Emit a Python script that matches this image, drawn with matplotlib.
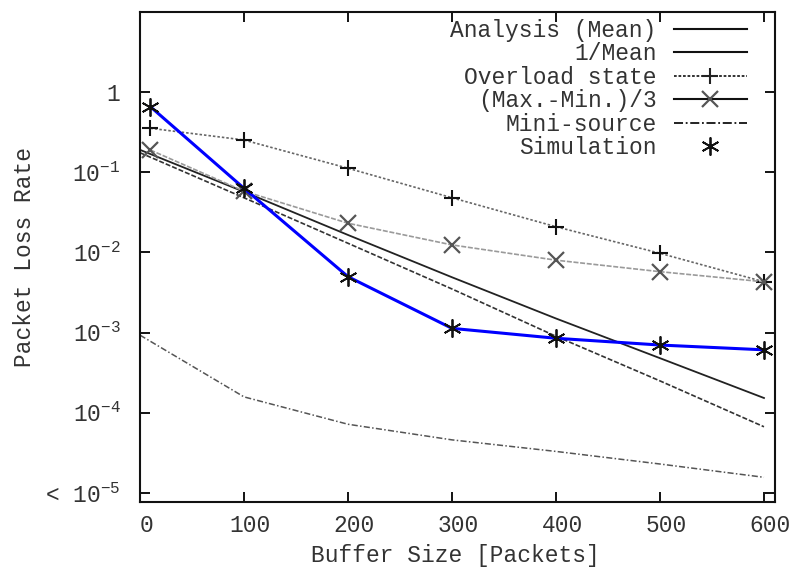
import numpy as np
import matplotlib
matplotlib.use("Agg")
import matplotlib.pyplot as plt
import matplotlib.transforms as mtransforms
from matplotlib.lines import Line2D

# --------------------------------------------------------------------------------
# DATA
# --------------------------------------------------------------------------------
buffer_line = [0, 100, 200, 300, 400, 500, 600]       # analytic curves
buffer_pts = [10, 100, 200, 300, 400, 500, 600]       # marker series

analysis_mean = [0.19, 0.057, 0.0165, 0.0049, 0.0015, 0.00048, 0.000153]
inv_mean = [0.175, 0.048, 0.013, 0.0035, 0.00090, 0.00025, 0.000067]
overload = [0.353, 0.252, 0.112, 0.048, 0.0209, 0.00975, 0.0043]
max_min = [0.189, 0.058, 0.0231, 0.0124, 0.0080, 0.00575, 0.0043]
mini_source = [0.00093, 0.000158, 0.000072, 0.000046, 0.000033, 0.000023, 0.0000157]
simulation = [0.656, 0.063, 0.00498, 0.00113, 0.00085, 0.00070, 0.00061]

x_ticks = [0, 100, 200, 300, 400, 500, 600]
y_ticks = [1, 1e-1, 1e-2, 1e-3, 1e-4, 1e-5]
y_tick_labels = ["1", r"$\mathregular{10^{-1}}$", r"$\mathregular{10^{-2}}$",
                 r"$\mathregular{10^{-3}}$", r"$\mathregular{10^{-4}}$",
                 r"< $\mathregular{10^{-5}}$"]

# --------------------------------------------------------------------------------
# STYLE
# --------------------------------------------------------------------------------
plt.rcParams['font.family'] = ['Liberation Mono', 'DejaVu Sans Mono']
plt.rcParams['mathtext.fontset'] = 'custom'
plt.rcParams['mathtext.rm'] = 'Liberation Mono'
txt_color = '#333333'
fs = 16.5

fig = plt.figure(figsize=(7.95, 5.72), dpi=100)
ax = fig.add_axes([140 / 795, 1 - 502 / 572, 635 / 795, 490 / 572])

# curves
ax.plot(buffer_line, analysis_mean, color='#222222', lw=1.3)
ax.plot(buffer_line, inv_mean, color='#333333', lw=1.2, dashes=(3, 1.2))
ax.plot(buffer_pts, overload, color='#666666', lw=1.2, dashes=(1.5, 1.2),
        marker='+', ms=12, mew=1.5, mec='#111111')
ax.plot(buffer_pts, max_min, color='#9a9a9a', lw=1.2, dashes=(3, 1),
        marker='x', ms=11, mew=1.6, mec='#555555')
ax.plot(buffer_line, mini_source, color='#555555', lw=1.1, dashes=(4, 1.5, 1, 1.5))
ax.plot(buffer_pts, simulation, color='#0000ff', lw=2.2, zorder=4)
ax.plot(buffer_pts, simulation, ls='none', marker=(6, 2, 0), ms=13, mew=1.3,
        color='#111111', zorder=5)

# axes
ax.set_yscale('log')
ax.set_xlim(0, 610.6)
ax.set_ylim(10 ** -5.112, 10 ** 0.9975)
ax.set_xticks(x_ticks)
ax.set_xticklabels([str(v) for v in x_ticks])
ax.set_yticks(y_ticks)
ax.set_yticklabels(y_tick_labels)
ax.minorticks_off()
ax.tick_params(direction='in', length=7, width=1.3, top=True, right=True,
               labelsize=fs, labelcolor=txt_color)
ax.tick_params(axis='x', pad=9)
ax.tick_params(axis='y', pad=14)
offset = mtransforms.ScaledTranslation(6.5 / 100, 0, fig.dpi_scale_trans)
for lab in ax.get_xticklabels():
    lab.set_transform(lab.get_transform() + offset)
for sp in ax.spines.values():
    sp.set_linewidth(1.5)
    sp.set_color('#111111')

ax.set_xlabel("Buffer Size [Packets]", fontsize=fs, color=txt_color)
ax.set_ylabel("Packet Loss Rate", fontsize=fs, color=txt_color)
ax.xaxis.set_label_coords(0.497, -0.085)
ax.yaxis.set_label_coords(-0.163, 0.5)

# legend (gnuplot-style: text right aligned, sample on the right)
legend_elements = [
    Line2D([], [], color='#111111', lw=1.5, label="Analysis (Mean)"),
    Line2D([], [], color='#111111', lw=1.5, label="1/Mean"),
    Line2D([], [], color='#222222', lw=1.3, dashes=(1.5, 1), marker='+', ms=12,
           mew=1.5, label="Overload state"),
    Line2D([], [], color='#111111', lw=1.5, marker='x', ms=11, mew=1.6,
           mec='#555555', label="(Max.-Min.)/3"),
    Line2D([], [], color='#111111', lw=1.3, dashes=(5, 1.5, 1, 1.5), label="Mini-source"),
    Line2D([], [], ls='none', marker=(6, 2, 0), ms=13, mew=1.3, color='#111111',
           label="Simulation"),
]
leg = ax.legend(handles=legend_elements, loc='upper right', bbox_to_anchor=(0.956, 0.986),
                frameon=False, markerfirst=False, fontsize=fs, handlelength=3.2,
                handletextpad=0.75, labelspacing=0.02, borderpad=0, borderaxespad=0,
                numpoints=1)
for t in leg.get_texts():
    t.set_color(txt_color)

fig.savefig("out.png", dpi=100)
